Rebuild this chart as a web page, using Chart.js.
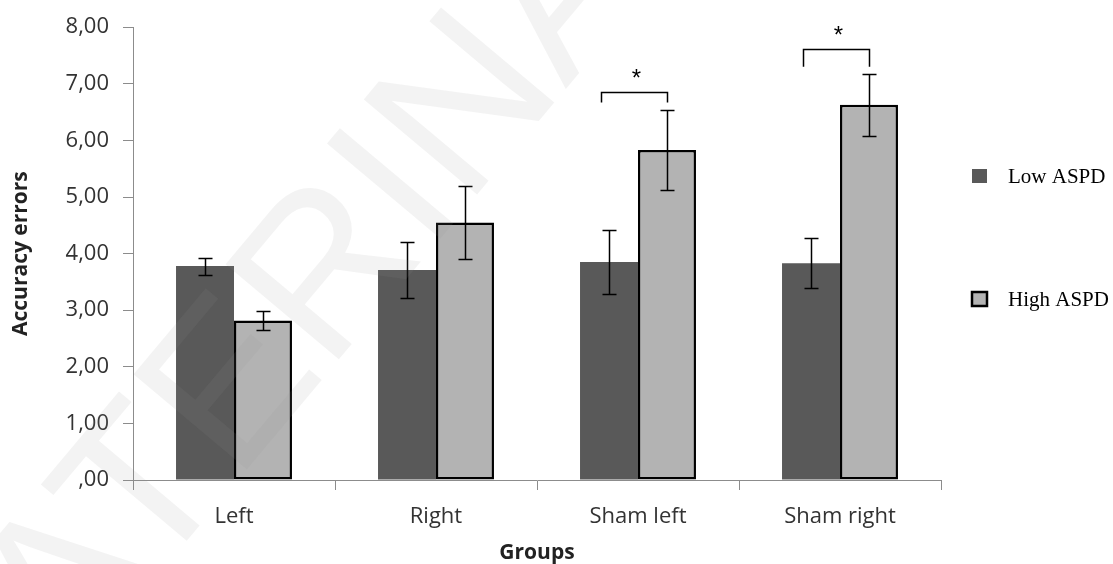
<!DOCTYPE html>
<html>
<head>
<meta charset="utf-8">
<script src="https://cdn.jsdelivr.net/npm/chart.js@4/dist/chart.umd.min.js"></script>
<style>
  html, body { margin: 0; padding: 0; background: #fff; }
  #wrap { width: 1113px; height: 564px; }
</style>
</head>
<body>
<div id="wrap"><canvas id="errorsChart" width="1113" height="564"></canvas></div>
<script>
// Accuracy errors per stimulation group, split by ASPD level
const groups = ['Left', 'Right', 'Sham left', 'Sham right'];
const seriesNames = ['Low ASPD', 'High ASPD'];
const lowAspd = [3.78, 3.71, 3.85, 3.83];
const lowAspdErr = [0.15, 0.50, 0.56, 0.44];
const highAspd = [2.82, 4.55, 5.83, 6.63];
const highAspdErr = [0.17, 0.65, 0.71, 0.55];
const yTickLabels = [',00', '1,00', '2,00', '3,00', '4,00', '5,00', '6,00', '7,00', '8,00'];

// significance brackets (axis units), null where there is none
const sigTop = [null, null, 6.86, 7.61];
const sigLegEnd = [null, null, 6.67, 7.30];
const sigLabel = '*';

const watermarkText = 'ATERINA';

const axisGrey = '#8c8c8c';
const tickFont = { family: 'Open Sans', size: 22 };

// whiskers on top of every bar
const errorBars = {
    id: 'errorBars',
    afterDatasetsDraw(chart) {
        const ctx = chart.ctx;
        const y = chart.scales.y;
        const errs = [lowAspdErr, highAspdErr];
        ctx.save();
        ctx.strokeStyle = '#000';
        ctx.lineWidth = 1.5;
        chart.data.datasets.forEach((ds, di) => {
            chart.getDatasetMeta(di).data.forEach((bar, i) => {
                const v = ds.data[i];
                const e = errs[di][i];
                const yTop = Math.round(y.getPixelForValue(v + e)) + 0.5;
                const yBot = Math.round(y.getPixelForValue(v - e)) + 0.5;
                const x = Math.round(bar.x) + 0.5;
                ctx.beginPath();
                ctx.moveTo(x, yTop); ctx.lineTo(x, yBot);
                ctx.moveTo(x - 7, yTop); ctx.lineTo(x + 7, yTop);
                ctx.moveTo(x - 7, yBot); ctx.lineTo(x + 7, yBot);
                ctx.stroke();
            });
        });
        ctx.restore();
    }
};

// brackets with stars between the two bars of a group
const sigMarks = {
    id: 'sigMarks',
    afterDatasetsDraw(chart) {
        const ctx = chart.ctx;
        const y = chart.scales.y;
        const low = chart.getDatasetMeta(0).data;
        const high = chart.getDatasetMeta(1).data;
        ctx.save();
        ctx.strokeStyle = '#000';
        ctx.lineWidth = 1.5;
        ctx.fillStyle = '#000';
        ctx.font = '24px "Liberation Sans"';
        ctx.textAlign = 'center';
        ctx.textBaseline = 'middle';
        sigTop.forEach((lvl, i) => {
            if (lvl == null) return;
            const x1 = Math.round(low[i].x - 8) + 0.5;
            const x2 = Math.round(high[i].x) + 0.5;
            const yt = Math.round(y.getPixelForValue(lvl)) + 0.5;
            const yl = y.getPixelForValue(sigLegEnd[i]);
            ctx.beginPath();
            ctx.moveTo(x1, yl); ctx.lineTo(x1, yt);
            ctx.lineTo(x2, yt); ctx.lineTo(x2, yl);
            ctx.stroke();
            ctx.fillText(sigLabel, (x1 + x2) / 2 + 2, yt - 13);
        });
        ctx.restore();
    }
};

// legend column on the right
const sideLegend = {
    id: 'sideLegend',
    afterDraw(chart) {
        const ctx = chart.ctx;
        const x = chart.chartArea.right + 31;
        const rows = [176, 299];
        ctx.save();
        chart.data.datasets.forEach((ds, i) => {
            const cy = rows[i];
            ctx.fillStyle = ds.backgroundColor;
            ctx.fillRect(x, cy - 7, 15, 14);
            if (ds.borderWidth) {
                ctx.lineWidth = 2.5;
                ctx.strokeStyle = ds.borderColor;
                ctx.strokeRect(x, cy - 7, 15, 14);
            }
            ctx.fillStyle = '#000';
            ctx.font = '21px "Liberation Serif"';
            ctx.textBaseline = 'middle';
            ctx.fillText(ds.label, x + 36, cy + 1);
        });
        ctx.restore();
    }
};

// faint diagonal stamp across the plot
const watermark = {
    id: 'watermark',
    afterDraw(chart) {
        const ctx = chart.ctx;
        ctx.save();
        ctx.translate(318, 292);
        ctx.rotate(-50 * Math.PI / 180);
        ctx.font = '215px "Liberation Sans"';
        ctx.fillStyle = 'rgba(150,150,150,0.11)';
        ctx.textAlign = 'center';
        ctx.textBaseline = 'middle';
        ctx.fillText(watermarkText, 0, 0);
        ctx.restore();
    }
};

const ctx = document.getElementById('errorsChart').getContext('2d');
new Chart(ctx, {
    type: 'bar',
    data: {
        labels: groups,
        datasets: [{
            label: seriesNames[0],
            data: lowAspd,
            backgroundColor: '#595959',
            borderWidth: 0,
            categoryPercentage: 0.574,
            barPercentage: 1.0
        }, {
            label: seriesNames[1],
            data: highAspd,
            backgroundColor: '#b3b3b3',
            borderColor: '#000',
            borderWidth: 2.5,
            borderSkipped: false,
            categoryPercentage: 0.574,
            barPercentage: 1.0
        }]
    },
    options: {
        responsive: false,
        animation: false,
        devicePixelRatio: 1,
        layout: { padding: { top: 24, right: 172, bottom: 0, left: 0 } },
        plugins: {
            legend: { display: false },
            tooltip: { enabled: false }
        },
        scales: {
            x: {
                grid: { drawOnChartArea: false, drawTicks: true, tickLength: 10, color: axisGrey, offset: true },
                border: { color: axisGrey, width: 1 },
                ticks: { color: '#333', font: tickFont, padding: 14 },
                title: {
                    display: true,
                    text: 'Groups',
                    color: '#222',
                    font: { family: 'Open Sans', size: 21, weight: 'bold' },
                    padding: { top: 0, bottom: -2 }
                },
                afterFit(scale) { scale.height = 84; }
            },
            y: {
                min: 0,
                max: 8,
                grid: { drawOnChartArea: false, drawTicks: true, tickLength: 10, color: axisGrey },
                border: { color: axisGrey, width: 1 },
                ticks: {
                    stepSize: 1,
                    color: '#333',
                    font: tickFont,
                    padding: 14,
                    callback: (v) => yTickLabels[Math.round(v)]
                },
                title: {
                    display: true,
                    text: 'Accuracy errors',
                    color: '#222',
                    font: { family: 'Open Sans', size: 21, weight: 'bold' },
                    padding: { top: 8, bottom: 0 }
                },
                afterFit(scale) { scale.width = 133; }
            }
        }
    },
    plugins: [errorBars, sigMarks, sideLegend, watermark]
});
</script>
</body>
</html>
